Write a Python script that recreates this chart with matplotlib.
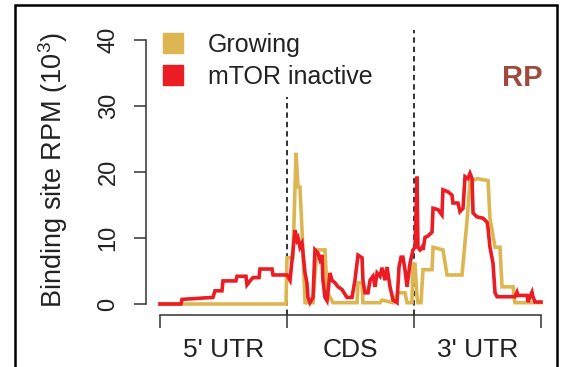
import matplotlib
matplotlib.use("Agg")
import matplotlib.pyplot as plt
from matplotlib.lines import Line2D
from matplotlib.patches import Rectangle

plt.rcParams['font.family'] = ['Liberation Sans', 'DejaVu Sans']
plt.rcParams['mathtext.fontset'] = 'custom'
plt.rcParams['mathtext.rm'] = 'Liberation Sans'
plt.rcParams['mathtext.default'] = 'regular'

# ---- data (x: metagene position, 0-1 5'UTR, 1-2 CDS, 2-3 3'UTR; y: RPM x10^3)
growing_x = [0.000, 0.992, 1.000, 1.047, 1.071, 1.087, 1.102, 1.118, 1.126, 1.142,
             1.205, 1.213, 1.236, 1.299, 1.315, 1.339, 1.362, 1.551, 1.559, 1.591,
             1.598, 1.732, 1.748, 1.835, 1.874, 1.929, 1.945, 1.984, 1.992, 2.008,
             2.024, 2.031, 2.055, 2.071, 2.142, 2.150, 2.228, 2.260, 2.378, 2.417,
             2.441, 2.496, 2.583, 2.598, 2.638, 2.677, 2.693, 2.780, 2.795, 3.000]
growing_y = [0, 0, 7.0, 7.0, 22.9, 17.7, 17.7, 11.2, 8.0, 0.2,
             0.2, 2.6, 8.2, 8.2, 2.0, 1.0, 0.2, 0.2, 3.2, 3.2,
             0.2, 0.2, 0.6, 0.2, 1.7, 1.7, 0.2, 0.2, 6.0, 6.0,
             1.0, 0.2, 0.2, 5.2, 5.2, 8.6, 8.2, 4.4, 4.4, 12.5,
             18.5, 19.0, 18.7, 13.0, 8.6, 8.6, 2.6, 2.6, 0.2, 0.2]

mtor_x = [0.000, 0.165, 0.173, 0.417, 0.433, 0.488, 0.496, 0.598, 0.606, 0.677,
          0.685, 0.709, 0.732, 0.780, 0.787, 0.882, 0.890, 1.000, 1.024, 1.063,
          1.079, 1.087, 1.102, 1.118, 1.126, 1.142, 1.157, 1.165, 1.181, 1.205,
          1.220, 1.244, 1.260, 1.276, 1.283, 1.299, 1.315, 1.339, 1.354, 1.378,
          1.402, 1.433, 1.472, 1.512, 1.535, 1.559, 1.591, 1.598, 1.614, 1.638,
          1.654, 1.677, 1.693, 1.709, 1.732, 1.748, 1.772, 1.787, 1.795, 1.811,
          1.835, 1.866, 1.882, 1.898, 1.913, 1.929, 1.945, 1.969, 1.992, 2.008,
          2.024, 2.031, 2.047, 2.063, 2.071, 2.087, 2.110, 2.142, 2.150, 2.189,
          2.220, 2.228, 2.268, 2.299, 2.307, 2.346, 2.362, 2.386, 2.402, 2.425,
          2.441, 2.457, 2.465, 2.496, 2.543, 2.575, 2.583, 2.598, 2.622, 2.638,
          2.654, 2.795, 2.811, 2.819, 2.890, 2.898, 2.913, 2.929, 2.937, 2.953,
          3.000]
mtor_y = [0, 0, 0.7, 1.0, 2.0, 2.0, 3.5, 3.5, 4.2, 4.2,
          2.9, 3.5, 4.0, 4.0, 5.3, 5.3, 4.4, 4.4, 3.6, 11.2,
          9.7, 10.0, 8.6, 9.2, 7.7, 4.7, 3.2, 1.0, 0.2, 1.0,
          8.2, 7.7, 6.7, 7.4, 3.6, 1.0, 0.5, 4.7, 3.6, 3.2,
          2.6, 2.2, 1.0, 1.0, 3.6, 7.4, 7.0, 3.6, 1.7, 1.7,
          3.6, 4.2, 2.6, 4.7, 4.2, 5.5, 3.6, 5.6, 4.7, 2.6,
          0.6, 0.2, 5.6, 7.1, 7.1, 5.2, 2.6, 6.2, 8.2, 8.6,
          19.3, 8.6, 8.2, 8.6, 8.2, 10.1, 10.3, 10.9, 14.5, 14.3,
          13.5, 17.3, 17.0, 16.5, 15.3, 15.3, 14.0, 14.5, 19.3, 19.0,
          19.8, 19.0, 13.8, 13.2, 13.0, 12.4, 11.5, 8.6, 6.2, 1.7,
          1.1, 1.1, 1.8, 1.3, 1.3, 0.3, 1.1, 1.8, 1.1, 0.3,
          0.3]

region_labels = ["5' UTR", "CDS", "3' UTR"]
region_bounds = [0, 1, 2, 3]
y_ticks = [0, 10, 20, 30, 40]
series_names = ["Growing", "mTOR inactive"]
gold = "#DDB651"
red = "#EC1C24"

W, H = 562, 367
fig = plt.figure(figsize=(W / 100, H / 100), dpi=100)
fig.patch.set_facecolor("white")

# axes placement in pixels
ax_l, ax_r, ax_t, ax_b = 146, 547, 30, 315
ax = fig.add_axes([ax_l / W, 1 - ax_b / H, (ax_r - ax_l) / W, (ax_b - ax_t) / H])
ppu_x = 127.0
ppu_y = 6.6
ax.set_xlim(-(160 - ax_l) / ppu_x, 3 + (ax_r - 541) / ppu_x)
ax.set_ylim(-(ax_b - 304) / ppu_y, (304 - ax_t) / ppu_y)

ax.plot(growing_x, growing_y, color=gold, lw=2.6, solid_joinstyle='miter', zorder=3)
ax.plot(mtor_x, mtor_y, color=red, lw=2.6, solid_joinstyle='miter', zorder=4)

for b in region_bounds[1:3]:
    ax.axvline(b, color="#222222", lw=1.3, ls=(0, (3.0, 2.2)), zorder=2)

for s in ['top', 'right']:
    ax.spines[s].set_visible(False)
ax.spines['left'].set_bounds(0, 40)
ax.spines['bottom'].set_bounds(0, 3)
for s in ['left', 'bottom']:
    ax.spines[s].set_linewidth(1.1)
    ax.spines[s].set_color("#333333")

ax.set_yticks(y_ticks)
ax.set_yticklabels([str(v) for v in y_ticks], rotation=90, va='center')
ax.tick_params(axis='y', length=9, width=1.1, color="#333333", pad=10,
               labelsize=17, labelcolor="#222222")
ax.set_xticks(region_bounds)
ax.set_xticklabels([])
ax.tick_params(axis='x', length=9, width=1.1, color="#333333")

for i, lab in enumerate(region_labels):
    ax.text(i + 0.5, -(350 - 304) / ppu_y, lab, ha='center', va='center',
            fontsize=19, color="#222222", clip_on=False)

ax.text(-(160 - 53) / ppu_x, 20.3, r'Binding site RPM (10$^{3}$)', rotation=90,
        ha='center', va='center', fontsize=19.5, color="#222222", clip_on=False)

ax.text(3.015, (304 - 78) / ppu_y, "RP", ha='right', va='center',
        fontsize=21, fontweight='bold', color="#9E4A3F")

handles = [Line2D([], [], marker='s', ls='none', markersize=14, color=gold, mec=gold),
           Line2D([], [], marker='s', ls='none', markersize=14, color=red, mec=red)]
bp = 0.3
pad_px = bp * 18 * 100 / 72
leg = ax.legend(handles, series_names, loc='upper left',
                bbox_to_anchor=((160.5 - pad_px) / W, 1 - (33 - pad_px) / H),
                bbox_transform=fig.transFigure,
                frameon=True, facecolor="white", edgecolor="none", framealpha=1,
                fancybox=False, fontsize=18, handlelength=1.0, handletextpad=0.9,
                labelspacing=0.32, borderpad=bp, borderaxespad=0,
                labelcolor="#222222")
leg.set_zorder(5)

# outer frame
fig.add_artist(Rectangle((15 / W, -0.05), (557 - 15) / W, 1.05 - 5 / H,
                         transform=fig.transFigure, fill=False, lw=1.8,
                         edgecolor="black", clip_on=False))

fig.savefig("out.png", dpi=100, facecolor="white")
